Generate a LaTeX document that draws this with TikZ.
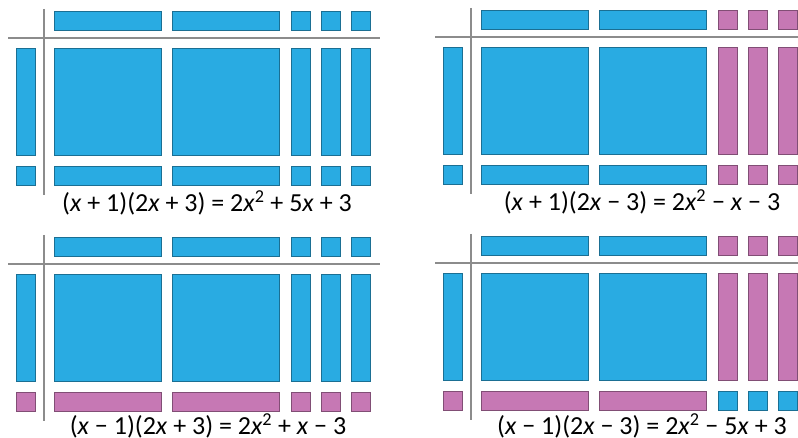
\documentclass[tikz,border=0pt]{standalone}
\usepackage{fontspec}
\setmainfont{Carlito}
\usetikzlibrary{positioning}

\definecolor{tileblue}{HTML}{29ABE2}
\definecolor{tilepink}{HTML}{C678B4}
\definecolor{axisgray}{HTML}{8C8C8C}
\newcommand{\xv}{\textit{x}}
\newcommand{\mn}{−}

\begin{document}
\begin{tikzpicture}[
    x=1pt, y=-1pt,
    tile/.style={fill=#1, draw=#1!65!black, line width=0.6pt},
    axis/.style={draw=axisgray, line width=1.2pt},
    eqn/.style={font=\fontsize{26}{30}\selectfont, inner sep=0pt},
]
    \useasboundingbox (0,0) rectangle (798,438);
    \clip (0,0) rectangle (798,438);

%% PANELS
    % cross point / colour of 1 (row) / colour of 3 (column) / colour of product / equation centre / equation
    \foreach \px/\py/\ca/\cb/\cab/\ex/\ey/\eq [count=\i] in {
        44/38/tileblue/tileblue/tileblue/207/203/{(\xv{} + 1)(2\xv{} + 3) = 2\xv\textsuperscript{2} + 5\xv{} + 3},
        471/37/tileblue/tilepink/tilepink/642/202/{(\xv{} + 1)(2\xv{} \mn{} 3) = 2\xv\textsuperscript{2} \mn{} \xv{} \mn{} 3},
        44/264/tilepink/tileblue/tilepink/208/426/{(\xv{} \mn{} 1)(2\xv{} + 3) = 2\xv\textsuperscript{2} + \xv{} \mn{} 3},
        471/263/tilepink/tilepink/tileblue/642/426/{(\xv{} \mn{} 1)(2\xv{} \mn{} 3) = 2\xv\textsuperscript{2} \mn{} 5\xv{} + 3}} {
    \begin{scope}[shift={(\px,\py)}]
        % axes
        \coordinate (vtop-\i) at (0,-29);
        \coordinate (vbot-\i) at (0,157);
        \coordinate (hleft-\i) at (-36,0);
        \coordinate (hright-\i) at (336,0);
        \draw[axis] (vtop-\i) -- (vbot-\i);
        \draw[axis] (hleft-\i) -- (hright-\i);

        % factor 2x + 3 along the top
        \foreach \c in {10,128}
            \draw[tile=tileblue] (\c,-27) rectangle ++(107,19);
        \foreach \c in {247,277,307}
            \draw[tile=\cb] (\c,-27) rectangle ++(19,19);

        % factor x + 1 down the left
        \draw[tile=tileblue] (-28,10) rectangle ++(19,107);
        \draw[tile=\ca] (-28,128) rectangle ++(19,19);

        % products: x row
        \foreach \c in {10,128}
            \draw[tile=tileblue] (\c,10) rectangle ++(107,107);
        \foreach \c in {247,277,307}
            \draw[tile=\cb] (\c,10) rectangle ++(19,107);

        % products: 1 row
        \foreach \c in {10,128}
            \draw[tile=\ca] (\c,128) rectangle ++(107,19);
        \foreach \c in {247,277,307}
            \draw[tile=\cab] (\c,128) rectangle ++(19,19);
    \end{scope}

    % equation
    \node[eqn] (eq-\i) at (\ex,\ey) {\eq};
    }

\end{tikzpicture}
\end{document}
